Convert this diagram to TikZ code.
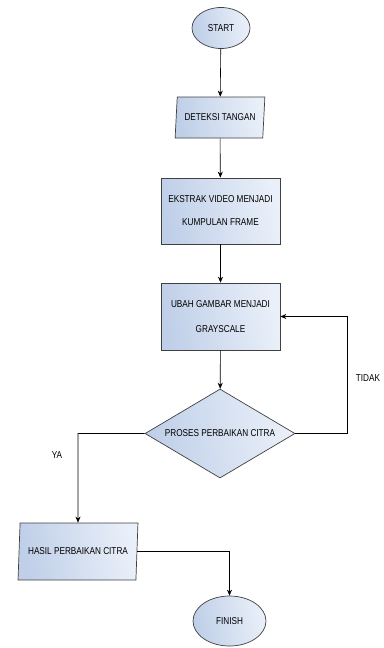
\documentclass[tikz,border=0pt]{standalone}
\usepackage{fontspec}
\setmainfont{Liberation Sans}[FakeStretch=0.82]
\usetikzlibrary{shapes.geometric,arrows.meta}
\definecolor{fillL}{HTML}{EAF0F9}
\definecolor{fillD}{HTML}{BFCFE8}
\begin{document}
\begin{tikzpicture}[x=1pt,y=-1pt,
  base/.style={draw=black!75, line width=0.7pt, shading=axis, left color=fillD, right color=fillL,
    shading angle=100, inner sep=0pt, font=\fontsize{10}{12}\selectfont, align=center},
  term/.style={base, ellipse},
  proc/.style={base, rectangle, minimum width=119pt},
  io/.style={base, trapezium, trapezium left angle=76, trapezium right angle=104,
    trapezium stretches=true},
  dec/.style={base, diamond, shape aspect=1.7},
  conn/.style={line width=0.6pt, -{Stealth[length=6pt,width=5pt]}},
  lbl/.style={font=\fontsize{10}{12}\selectfont}]
\useasboundingbox (0,0) rectangle (383,648);
\node[term, minimum width=58pt, minimum height=41pt] (start) at (221,28) {START};
\node[io, minimum width=90pt, minimum height=41pt] (det) at (220,117.5) {DETEKSI TANGAN};
\node[proc, minimum height=66pt] (eks) at (220.5,211) {EKSTRAK VIDEO MENJADI\\[11pt]KUMPULAN FRAME};
\node[proc, minimum height=67pt] (ubah) at (220.5,316.5) {UBAH GAMBAR MENJADI\\[13pt]GRAYSCALE};
\node[dec, minimum width=150pt, minimum height=89pt] (dec) at (220,433.5) {PROSES PERBAIKAN CITRA};
\node[io, minimum width=120pt, minimum height=57pt] (hasil) at (78,551.5) {HASIL PERBAIKAN CITRA};
\node[term, minimum width=73pt, minimum height=50pt] (fin) at (229.5,621) {FINISH};
\node[lbl] (tidak) at (368,378) {TIDAK};
\node[lbl] (ya) at (57,455) {YA};
\coordinate (tr) at (347,433.5);
\coordinate (tl) at (78,433.5);
\draw[conn] (start) -- (det);
\draw[conn] (det) -- (eks);
\draw[conn] (eks) -- (ubah);
\draw[conn] (ubah) -- (dec);
\draw[conn] (dec.east) -- (tr) |- (ubah.east);
\draw[conn] (dec.west) -- (tl) -- (hasil.north);
\draw[conn] (hasil.east) -| (fin.north);
\end{tikzpicture}
\end{document}
